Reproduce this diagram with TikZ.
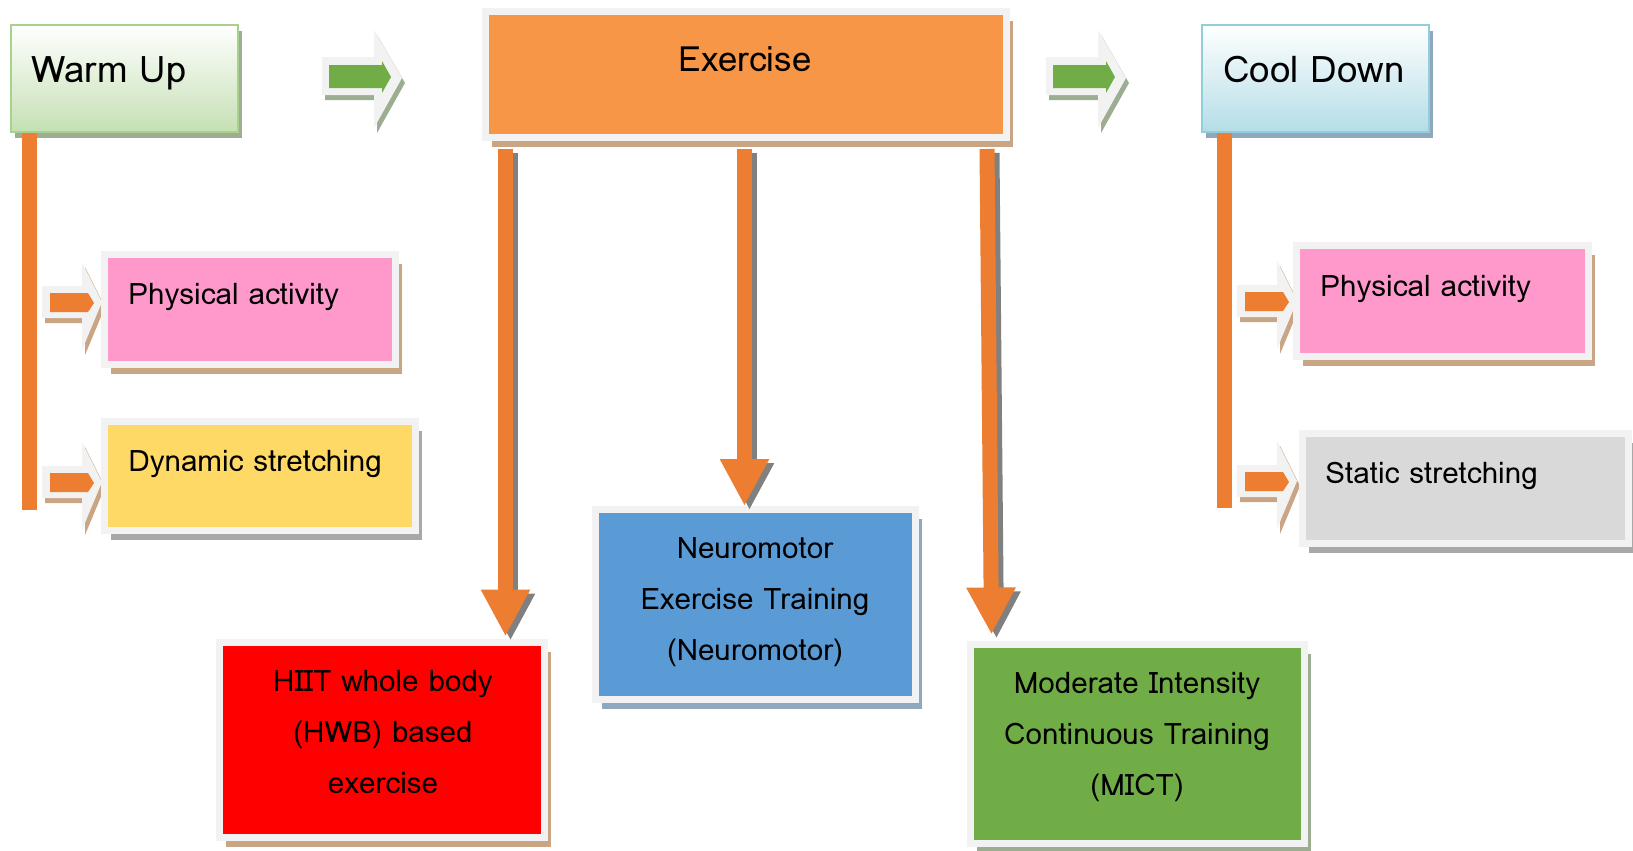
\documentclass[tikz,border=0pt]{standalone}
\usepackage{fontspec}
\setmainfont{Loma}
\usetikzlibrary{arrows.meta,calc,shadows,backgrounds}
\definecolor{orangeA}{HTML}{ED7D31}
\definecolor{exfill}{HTML}{F79646}
\definecolor{framec}{HTML}{F2F2F2}
\definecolor{pinkc}{HTML}{FF99CC}
\definecolor{yellowc}{HTML}{FFD966}
\definecolor{grayc}{HTML}{D9D9D9}
\definecolor{redc}{HTML}{FF0000}
\definecolor{bluec}{HTML}{5B9BD5}
\definecolor{greenc}{HTML}{70AD47}
\definecolor{wgreen}{HTML}{C5E0B4}
\definecolor{wgreenb}{HTML}{A9D18E}
\definecolor{cblue}{HTML}{B4DDE7}
\definecolor{cblueb}{HTML}{92CDDC}
\definecolor{shTan}{HTML}{C9A583}
\definecolor{shGray}{HTML}{A8A8A8}
\definecolor{shGreen}{HTML}{9DAD92}
\definecolor{shBlue}{HTML}{8FA8BE}
\definecolor{arrsh}{HTML}{808080}
\tikzset{
  box/.style={draw=framec, line width=3.5pt, inner sep=0pt,
    general shadow={fill=#1, shadow xshift=3.25pt, shadow yshift=-4.75pt}},
  titlebox/.style 2 args={draw=#1, line width=1pt, inner sep=0pt,
    general shadow={fill=#2, shadow xshift=2pt, shadow yshift=-3pt}},
  ttl/.style={inner sep=0pt, anchor=base west, font=\fontsize{18.3}{22}\selectfont},
  txt/.style={inner sep=0pt, anchor=base west, font=\fontsize{14.8}{17}\selectfont},
  mtxt/.style={inner sep=0pt, anchor=base, align=center, font=\fontsize{14.8}{25.5}\selectfont},
  bar/.style={draw=orangeA, line width=7.5pt, line cap=butt},
  darr/.style={draw=orangeA, line width=7.5pt, -{Triangle[width=23pt,length=23.5pt]}},
  darrsh/.style={draw=arrsh, line width=7.5pt, -{Triangle[width=23pt,length=23.5pt]},
    transform canvas={xshift=2.5pt, yshift=-2pt}},
  pics/greenblock/.style={code={
    \fill[shGreen, shift={(3,5)}] (0,0) -- (52,0) -- (52,-27) -- (80,21) -- (52,71) -- (52,38) -- (0,38) -- cycle;
    \fill[framec] (0,0) -- (52,0) -- (52,-27) -- (80,21) -- (52,71) -- (52,38) -- (0,38) -- cycle;
    \fill[greenc] (7,8) -- (60,8) -- (60,4) -- (69,20) -- (60,36) -- (60,31) -- (7,31) -- cycle;
  }},
  pics/orangeblock/.style={code={
    \fill[shTan, shift={(3,5)}] (0,0) -- (40,0) -- (40,-24) -- (60,16) -- (40,64) -- (40,32) -- (0,32) -- cycle;
    \fill[framec] (0,0) -- (40,0) -- (40,-24) -- (60,16) -- (40,64) -- (40,32) -- (0,32) -- cycle;
    \fill[orangeA] (8,7) -- (46,7) -- (52,17) -- (46,26) -- (8,26) -- cycle;
  }},
}
\begin{document}
\begin{tikzpicture}[x=0.5pt,y=-0.5pt]
\useasboundingbox (0,0) rectangle (1633,851);
\fill[white] (0,0) rectangle (1633,851);

% top row
\node[titlebox={wgreenb}{shGreen}, top color=white, bottom color=wgreen,
      minimum width=113.5pt, minimum height=53.5pt] (warm) at (124.5,78.5) {};
\node[titlebox={cblueb}{shBlue}, top color=white, bottom color=cblue,
      minimum width=113.5pt, minimum height=53.5pt] (cool) at (1315.5,78.5) {};
\node[box=shTan, fill=exfill, minimum width=260.5pt, minimum height=63pt] (ex) at (746,74.5) {};
\node[ttl] (warmt) at (31,82) {Warm Up};
\node[ttl] (coolt) at (1223,82) {Cool Down};
\node[ttl, anchor=base, font=\fontsize{17.4}{22}\selectfont] (ext) at (745,71) {Exercise};
\pic at (322,57) {greenblock};
\pic at (1046,57) {greenblock};

% left column
\draw[bar] ($(warm.south west)+(19.5,0)$) -- ++(0,377);
\pic at (42,286) {orangeblock};
\pic at (42,466) {orangeblock};
\node[box=shTan, fill=pinkc, minimum width=145.5pt, minimum height=55pt] (pa1) at (250,309.5) {};
\node[box=shGray, fill=yellowc, minimum width=155.5pt, minimum height=54.5pt] (dyn) at (260,476) {};
\node[txt] (pa1t) at (128,304) {Physical activity};
\node[txt] (dynt) at (128,471) {Dynamic stretching};

% right column
\draw[bar] ($(cool.south west)+(23,0)$) -- ++(0,375);
\pic at (1237,285) {orangeblock};
\pic at (1237,465) {orangeblock};
\node[box=shTan, fill=pinkc, minimum width=146pt, minimum height=55.5pt] (pa2) at (1442.5,301) {};
\node[box=shGray, fill=grayc, minimum width=163pt, minimum height=55pt] (stat) at (1465.5,488.5) {};
\node[txt] (pa2t) at (1320,296) {Physical activity};
\node[txt] (statt) at (1325,483) {Static stretching};

% exercise types
\node[box=shTan, fill=redc, minimum width=162.5pt, minimum height=97.5pt] (hiit) at (382,740) {};
\node[box=shBlue, fill=bluec, minimum width=160pt, minimum height=95pt] (neuro) at (755.5,604.5) {};
\node[box=shGreen, fill=greenc, minimum width=167pt, minimum height=99.5pt] (mict) at (1137.5,744) {};
\node[mtxt] (hiitt) at (383,793) {HIIT whole body\\(HWB) based\\exercise};
\node[mtxt] (neurot) at (755,660) {Neuromotor\\Exercise Training\\(Neuromotor)};
\node[mtxt] (mictt) at (1137,795) {Moderate Intensity\\Continuous Training\\(MICT)};

% down arrows
\coordinate (a1s) at (505.5,149);
\coordinate (a2s) at (744.5,149);
\coordinate (a3s) at (987,149);
\draw[darrsh] (a1s) -- ([yshift=1.25pt]a1s |- hiit.north);
\draw[darrsh] (a2s) -- (a2s |- neuro.north);
\draw[darrsh] (a3s) -- ([xshift=12.25pt,yshift=3.25pt]mict.north west);
\draw[darr] (a1s) -- ([yshift=1.25pt]a1s |- hiit.north);
\draw[darr] (a2s) -- (a2s |- neuro.north);
\draw[darr] (a3s) -- ([xshift=12.25pt,yshift=3.25pt]mict.north west);
\end{tikzpicture}
\end{document}
